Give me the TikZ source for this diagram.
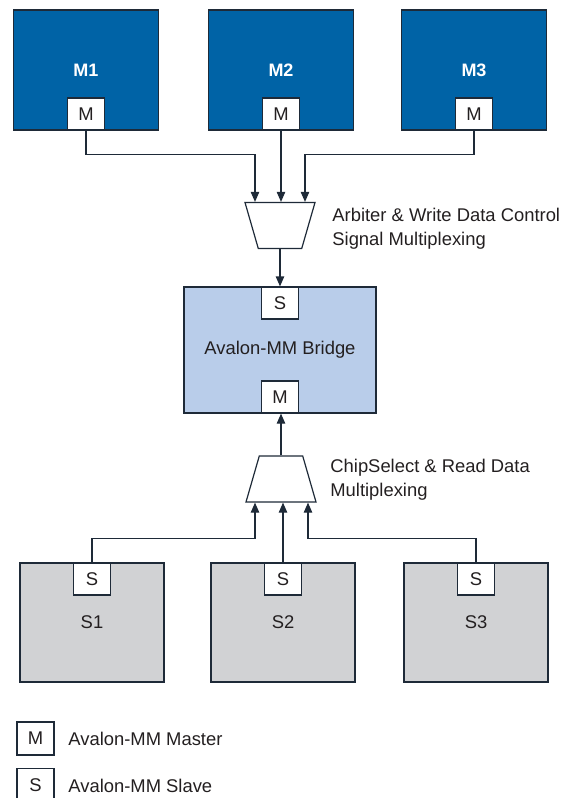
\documentclass[tikz,border=0pt]{standalone}
\usepackage{fontspec}
\setmainfont{Liberation Sans}
\usetikzlibrary{arrows.meta,calc,shapes.geometric}
\definecolor{mblue}{HTML}{0063A6}
\definecolor{edge}{HTML}{1E2A38}
\definecolor{bridgebg}{HTML}{B9CDEA}
\definecolor{slavebg}{HTML}{D1D2D4}
\definecolor{ink}{HTML}{231F20}
\tikzset{
  unit/.style={draw=edge,line width=0.6pt,inner sep=0pt,minimum width=72.5pt,
    minimum height=60pt,font=\fontsize{9.2}{11}\selectfont,text=ink},
  master/.style={unit,fill=mblue,text=white,font=\fontsize{9}{11}\selectfont\bfseries},
  slave/.style={unit,fill=slavebg,minimum width=72pt,minimum height=59.5pt},
  bridge/.style={unit,fill=bridgebg,minimum width=96pt,minimum height=63pt},
  port/.style={draw=edge,line width=0.6pt,fill=white,inner sep=0pt,minimum width=18.5pt,
    minimum height=16pt,font=\fontsize{9.2}{11}\selectfont,text=ink},
  mux/.style={trapezium,draw=edge,line width=0.6pt,fill=white,trapezium stretches=true,
    trapezium angle=73,minimum width=35pt,minimum height=23pt,inner sep=1pt},
  wire/.style={draw=edge,line width=0.6pt},
  flow/.style={wire,-{Triangle[length=5pt,width=4.2pt]}},
  note/.style={align=left,anchor=west,inner sep=0pt,font=\fontsize{9.2}{11.8}\selectfont,text=ink},
}

\begin{document}
\begin{tikzpicture}[x=0.5pt,y=-0.5pt]
  \useasboundingbox (0,0) rectangle (563,798);
  % ---- masters ----
  \node[master] (m1) at (86,70)  {M1};
  \node[master] (m2) at (281,70) {M2};
  \node[master] (m3) at (474,70) {M3};
  \node[port,anchor=south] (mp1) at (m1.south) {M};
  \node[port,anchor=south] (mp2) at (m2.south) {M};
  \node[port,anchor=south] (mp3) at (m3.south) {M};
  % ---- arbiter mux ----
  \node[mux,shape border rotate=180] (mux1) at (280,225.5) {};
  \coordinate (a1) at ($(mux1.north)+(-25,0)$);
  \coordinate (a3) at ($(mux1.north)+(25,0)$);
  \draw[flow] (mp1.south) -- ++(0,24) -| (a1);
  \draw[flow] (mp2.south) -- (mp2.south |- mux1.north);
  \draw[flow] (mp3.south) -- ++(0,24) -| (a3);
  \node[note] (t1) at (332,228.5) {Arbiter \& Write Data Control\\Signal Multiplexing};
  % ---- bridge ----
  \node[bridge] (br) at (280,350) {Avalon-MM Bridge};
  \node[port,anchor=north] (bs) at (br.north) {S};
  \node[port,anchor=south] (bm) at (br.south) {M};
  \draw[flow] (mux1.south) -- (bs.north);
  % ---- read mux ----
  \node[mux] (mux2) at (281,479) {};
  \coordinate (b1) at ($(mux2.south)+(-26,0)$);
  \coordinate (b3) at ($(mux2.south)+(27,0)$);
  \draw[flow] (mux2.north) -- (mux2.north |- bm.south);
  \node[note] (t2) at (330,479.5) {ChipSelect \& Read Data\\Multiplexing};
  % ---- slaves ----
  \node[slave] (s1) at (92,622.5)  {S1};
  \node[slave] (s2) at (283,622.5) {S2};
  \node[slave] (s3) at (476,622.5) {S3};
  \node[port,anchor=north] (sp1) at (s1.north) {S};
  \node[port,anchor=north] (sp2) at (s2.north) {S};
  \node[port,anchor=north] (sp3) at (s3.north) {S};
  \draw[flow] (sp1.north) -- ++(0,-24) -| (b1);
  \draw[flow] (sp2.north) -- (sp2.north |- mux2.south);
  \draw[flow] (sp3.north) -- ++(0,-24) -| (b3);
  % ---- legend ----
  \node[port,minimum height=16.5pt] (km) at (35.5,738.5) {M};
  \node[note] (kmt) at (68,739) {Avalon-MM Master};
  \node[port,minimum height=16.5pt] (ks) at (35.5,785) {S};
  \node[note] (kst) at (68,786) {Avalon-MM Slave};
\end{tikzpicture}
\end{document}
